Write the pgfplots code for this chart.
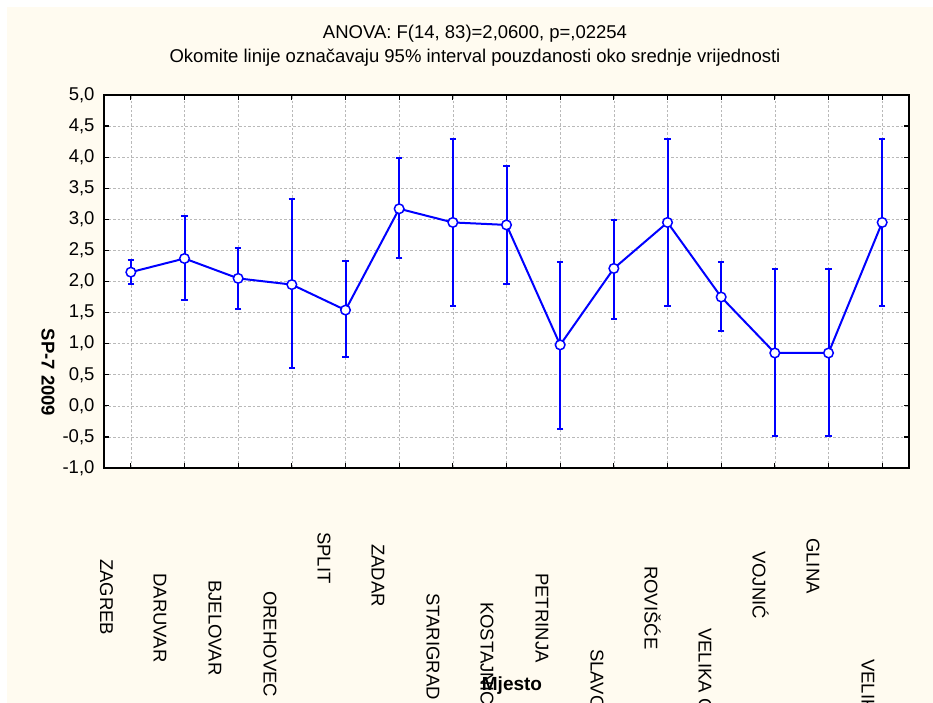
\documentclass[border=0pt]{standalone}
\usepackage{pgfplots}
\pgfplotsset{compat=1.18}
\usepackage{fontspec}
\setmainfont{Liberation Sans}
\definecolor{cream}{RGB}{255,251,240}
\definecolor{pblue}{RGB}{0,0,255}
\begin{document}
\begin{tikzpicture}[x=1pt,y=1pt]
\useasboundingbox (0,0) rectangle (933,703);
\clip (0,0) rectangle (933,703);
\fill[white] (0,0) rectangle (933,703);
\fill[cream] (7,0) rectangle (933,696);
\begin{axis}[
  at={(104pt,235pt)}, anchor=south west,
  scale only axis, width=805pt, height=373pt,
  xmin=-0.5, xmax=14.5, ymin=-1, ymax=5,
  xtick={0,...,14}, xticklabels={},
  ytick={-1,-0.5,...,5},
  axis background/.style={fill=white},
  axis line style={black, line width=1.6pt},
  tick align=inside, major tick length=5pt,
  every tick/.style={black, line width=1.2pt},
  grid=major,
  major grid style={gray!55, line width=0.6pt, dash pattern=on 2.5pt off 2pt},
  /pgf/number format/.cd, fixed, fixed zerofill, precision=1, use comma, assume math mode=true,
  /pgfplots/.cd,
  yticklabel style={font=\fontsize{18.5}{20}\selectfont, xshift=-6pt},
]
\addplot[pblue, line width=2pt, mark=*, mark size=4.8pt,
  mark options={fill=white, draw=pblue, line width=1.5pt},
  error bars/.cd, y dir=both, y explicit,
  error bar style={line width=2pt, pblue},
  error mark options={pblue, line width=2pt, mark size=3.2pt, rotate=90}]
table[x=x, y=y, y error plus=ep, y error minus=em] {
x y ep em
0 2.15 0.20 0.19
1 2.37 0.69 0.67
2 2.05 0.49 0.49
3 1.95 1.37 1.34
4 1.54 0.79 0.75
5 3.17 0.82 0.79
6 2.95 1.35 1.34
7 2.91 0.94 0.95
8 0.98 1.33 1.36
9 2.21 0.78 0.81
10 2.95 1.35 1.34
11 1.75 0.57 0.55
12 0.85 1.35 1.33
13 0.85 1.35 1.33
14 2.95 1.35 1.34
};
\end{axis}
\begin{scope}[every node/.style={font=\fontsize{18.5}{20}\selectfont}]
\node[anchor=base] at (475,664) {ANOVA: F(14, 83)=2,0600, p=,02254};
\node[anchor=base] at (475,640) {Okomite linije označavaju 95\% interval pouzdanosti oko srednje vrijednosti};
\node[rotate=-90, font=\fontsize{18.5}{20}\selectfont\bfseries] at (48,330.5) {SP-7 2009};
\node[anchor=base, font=\fontsize{19}{20}\selectfont\bfseries] at (512,12.3) {Mjesto};
\end{scope}
\begin{scope}[every node/.style={rotate=-90, anchor=base west, inner sep=0pt, font=\fontsize{18.5}{20}\selectfont}]
\node at (100.0,144) {ZAGREB};
\node at (153.5,129.7) {DARUVAR};
\node at (208.5,123) {BJELOVAR};
\node at (263.5,112) {OREHOVEC};
\node at (317.5,171) {SPLIT};
\node at (371.5,159) {ZADAR};
\node at (426.5,110) {STARIGRAD};
\node at (480.5,101) {KOSTAJNICA};
\node at (535.5,130) {PETRINJA};
\node at (590.5,54) {SLAVONSKI BROD};
\node at (644.5,137) {ROVIŠĆE};
\node at (698.5,75) {VELIKA GORICA};
\node at (752.5,152) {VOJNIĆ};
\node at (806.5,165) {GLINA};
\node at (861.5,44) {VELIKO TROJSTVO};
\end{scope}
\end{tikzpicture}
\end{document}
